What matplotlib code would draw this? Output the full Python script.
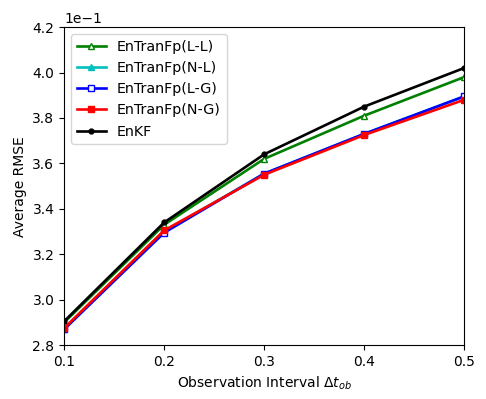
import numpy as np
import matplotlib
matplotlib.use('Agg')
import matplotlib.pyplot as plt

# observation intervals
dt_ob = [0.1, 0.2, 0.3, 0.4, 0.5]

# average RMSE for each method
rmse_ll = [0.2900, 0.3330, 0.3620, 0.3810, 0.3980]
rmse_nl = [0.2870, 0.3300, 0.3555, 0.3730, 0.3895]
rmse_lg = [0.2870, 0.3295, 0.3555, 0.3730, 0.3895]
rmse_ng = [0.2875, 0.3305, 0.3550, 0.3725, 0.3880]
rmse_enkf = [0.2905, 0.3340, 0.3640, 0.3850, 0.4020]

fig = plt.figure(figsize=(4.86, 3.99), dpi=100)
ax = fig.add_axes([0.132, 0.135, 0.823, 0.797])

lw = 1.9
ax.plot(dt_ob, rmse_ll, color='green', marker='^', mfc='white', mec='green', ms=5, lw=lw, label='EnTranFp(L-L)')
ax.plot(dt_ob, rmse_nl, color='c', marker='^', ms=5, lw=lw, label='EnTranFp(N-L)')
ax.plot(dt_ob, rmse_lg, color='blue', marker='s', mfc='white', mec='blue', ms=5, lw=lw, label='EnTranFp(L-G)')
ax.plot(dt_ob, rmse_ng, color='red', marker='s', ms=5, lw=lw, label='EnTranFp(N-G)')
ax.plot(dt_ob, rmse_enkf, color='black', marker='.', ms=7, lw=lw, label='EnKF')

ax.set_xlim(0.1, 0.5)
ax.set_ylim(0.28, 0.42)
ax.set_xticks([0.1, 0.2, 0.3, 0.4, 0.5])
ax.set_yticks(np.arange(0.28, 0.4201, 0.02))
ax.ticklabel_format(axis='y', style='sci', scilimits=(0, 0))
ax.set_xlabel(r'Observation Interval $\Delta t_{ob}$')
ax.set_ylabel('Average RMSE')
ax.legend(loc='upper left', fontsize=10.3)

fig.savefig('out.png', dpi=100)
